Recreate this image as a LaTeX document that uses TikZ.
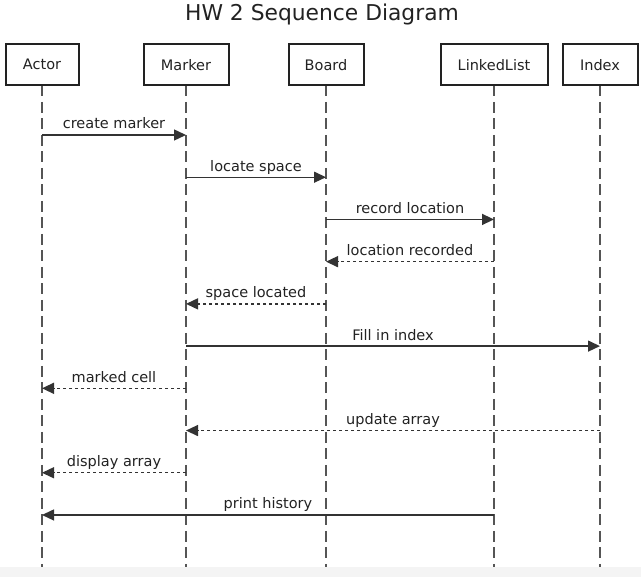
\documentclass[tikz,border=0pt]{standalone}
\usepackage{fontspec}
\setmainfont{DejaVu Sans}
\usetikzlibrary{arrows.meta}
\definecolor{boxc}{HTML}{222222}
\definecolor{txt}{HTML}{222222}
\definecolor{linec}{HTML}{333333}
\definecolor{lifec}{HTML}{555555}
\definecolor{stripc}{HTML}{F4F4F4}
\begin{document}
\begin{tikzpicture}[x=1pt,y=-1pt,
  actorbox/.style={draw=boxc, line width=2pt, fill=white, minimum height=41.5pt, inner sep=0pt, font=\fontsize{14.5}{17}\selectfont, text=txt},
  life/.style={draw=lifec, line width=1.1pt, dash pattern=on 11pt off 5.5pt},
  msg/.style={draw=linec, line width=1.4pt, -{Triangle[length=12pt,width=11pt]}},
  reply/.style={msg, dash pattern=on 3pt off 3pt},
  lbl/.style={font=\fontsize{14.5}{17}\selectfont, text=txt, anchor=base, inner sep=0pt, yshift=6pt}]
\useasboundingbox (0,0) rectangle (641,577);
\fill[stripc] (0,567.5) rectangle (641,577);

\node[font=\fontsize{21.8}{26}\selectfont, text=txt, anchor=base, inner sep=0pt] (title) at (322,20.7) {HW 2 Sequence Diagram};

% lifeline ends
\coordinate (bot) at (0,567.5);
\coordinate (top) at (0,85.5);

\foreach \n/\x in {A/42, M/186, B/326, L/494, I/600}{
  \coordinate (\n) at (\x,64.75);
  \draw[life] (\n |- top) -- (\n |- bot);
}

\node[actorbox, minimum width=73pt] (Abox) at (A) {Actor};
\node[actorbox, minimum width=85pt] (Mbox) at (M) {Marker};
\node[actorbox, minimum width=75pt] (Bbox) at (B) {Board};
\node[actorbox, minimum width=107pt] (Lbox) at (L) {LinkedList};
\node[actorbox, minimum width=75pt] (Ibox) at (I) {Index};

\foreach \i in {1,...,10}{
  \coordinate (r\i) at (0,{135+42.22*(\i-1)});
}

\draw[msg]   (A |- r1)  -- node[lbl]{create marker}     (M |- r1);
\draw[msg]   (M |- r2)  -- node[lbl]{locate space}      (B |- r2);
\draw[msg]   (B |- r3)  -- node[lbl]{record location}   (L |- r3);
\draw[reply] (L |- r4)  -- node[lbl]{location recorded} (B |- r4);
\draw[reply] (B |- r5)  -- node[lbl]{space located}     (M |- r5);
\draw[msg]   (M |- r6)  -- node[lbl]{Fill in index}     (I |- r6);
\draw[reply] (M |- r7)  -- node[lbl]{marked cell}       (A |- r7);
\draw[reply] (I |- r8)  -- node[lbl]{update array}      (M |- r8);
\draw[reply] (M |- r9)  -- node[lbl]{display array}     (A |- r9);
\draw[msg]   (L |- r10) -- node[lbl]{print history}     (A |- r10);
\end{tikzpicture}
\end{document}
